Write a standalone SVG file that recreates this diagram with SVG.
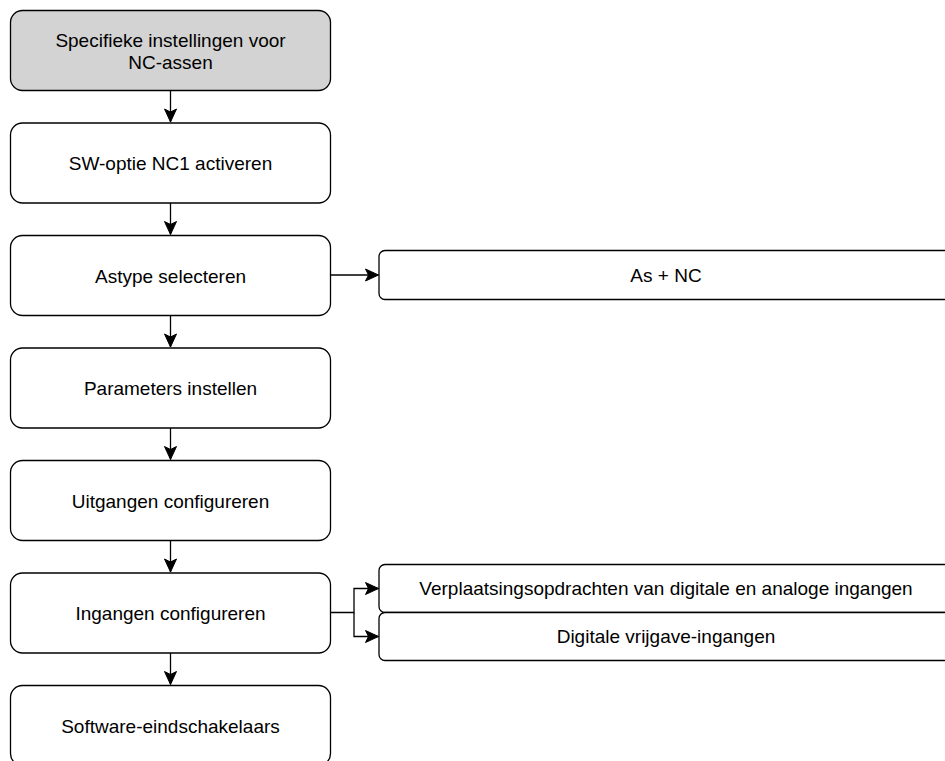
<svg xmlns="http://www.w3.org/2000/svg" width="945" height="761" viewBox="0 0 945 761">
<style>
.box{fill:#ffffff;stroke:#000000;stroke-width:1.3}
.gray{fill:#d3d3d3}
.t{font-family:"Liberation Sans",Arial,sans-serif;font-size:19px;fill:#000000;text-anchor:middle}
.c{fill:none;stroke:#000000;stroke-width:1.3}
</style>
<defs>
<marker id="ah" markerWidth="16" markerHeight="16" viewBox="0 0 16 16" refX="14" refY="8" orient="auto" markerUnits="userSpaceOnUse">
<path d="M1,2 L14,8 L1,14 L4,8 Z" fill="#000000" stroke="#000000" stroke-width="1"/>
</marker>
</defs>
<g id="connectors">
<path class="c" d="M170.5,90.5 V122" marker-end="url(#ah)"/>
<path class="c" d="M170.5,203 V234.5" marker-end="url(#ah)"/>
<path class="c" d="M170.5,315.5 V347" marker-end="url(#ah)"/>
<path class="c" d="M170.5,428 V459.5" marker-end="url(#ah)"/>
<path class="c" d="M170.5,540.5 V572" marker-end="url(#ah)"/>
<path class="c" d="M170.5,653 V684.5" marker-end="url(#ah)"/>
<path class="c" d="M330.5,275 H378.5" marker-end="url(#ah)"/>
<path class="c" d="M330.5,612.5 H354 V588.5 H378.5" marker-end="url(#ah)"/>
<path class="c" d="M354,612.5 V636.5 H378.5" marker-end="url(#ah)"/>
</g>
<g id="n1">
<rect class="box gray" x="10.5" y="10.5" width="320" height="80" rx="12"/>
<text class="t" x="170.5" y="47">Specifieke instellingen voor</text>
<text class="t" x="170.5" y="69">NC-assen</text>
</g>
<g id="n2">
<rect class="box" x="10.5" y="123" width="320" height="80" rx="12"/>
<text class="t" x="170.5" y="170">SW-optie NC1 activeren</text>
</g>
<g id="n3">
<rect class="box" x="10.5" y="235.5" width="320" height="80" rx="12"/>
<text class="t" x="170.5" y="282.5">Astype selecteren</text>
</g>
<g id="n4">
<rect class="box" x="10.5" y="348" width="320" height="80" rx="12"/>
<text class="t" x="170.5" y="395">Parameters instellen</text>
</g>
<g id="n5">
<rect class="box" x="10.5" y="460.5" width="320" height="80" rx="12"/>
<text class="t" x="170.5" y="507.5">Uitgangen configureren</text>
</g>
<g id="n6">
<rect class="box" x="10.5" y="573" width="320" height="80" rx="12"/>
<text class="t" x="170.5" y="620">Ingangen configureren</text>
</g>
<g id="n7">
<rect class="box" x="10.5" y="685.5" width="320" height="80" rx="12"/>
<text class="t" x="170.5" y="732.5">Software-eindschakelaars</text>
</g>
<g id="n8">
<rect class="box" x="379" y="250.5" width="574" height="49" rx="6"/>
<text class="t" x="666" y="282">As + NC</text>
</g>
<g id="n9">
<rect class="box" x="379" y="564.5" width="574" height="48" rx="6"/>
<text class="t" x="666" y="595">Verplaatsingsopdrachten van digitale en analoge ingangen</text>
</g>
<g id="n10">
<rect class="box" x="379" y="612.5" width="574" height="48" rx="6"/>
<text class="t" x="666" y="643">Digitale vrijgave-ingangen</text>
</g>
</svg>
